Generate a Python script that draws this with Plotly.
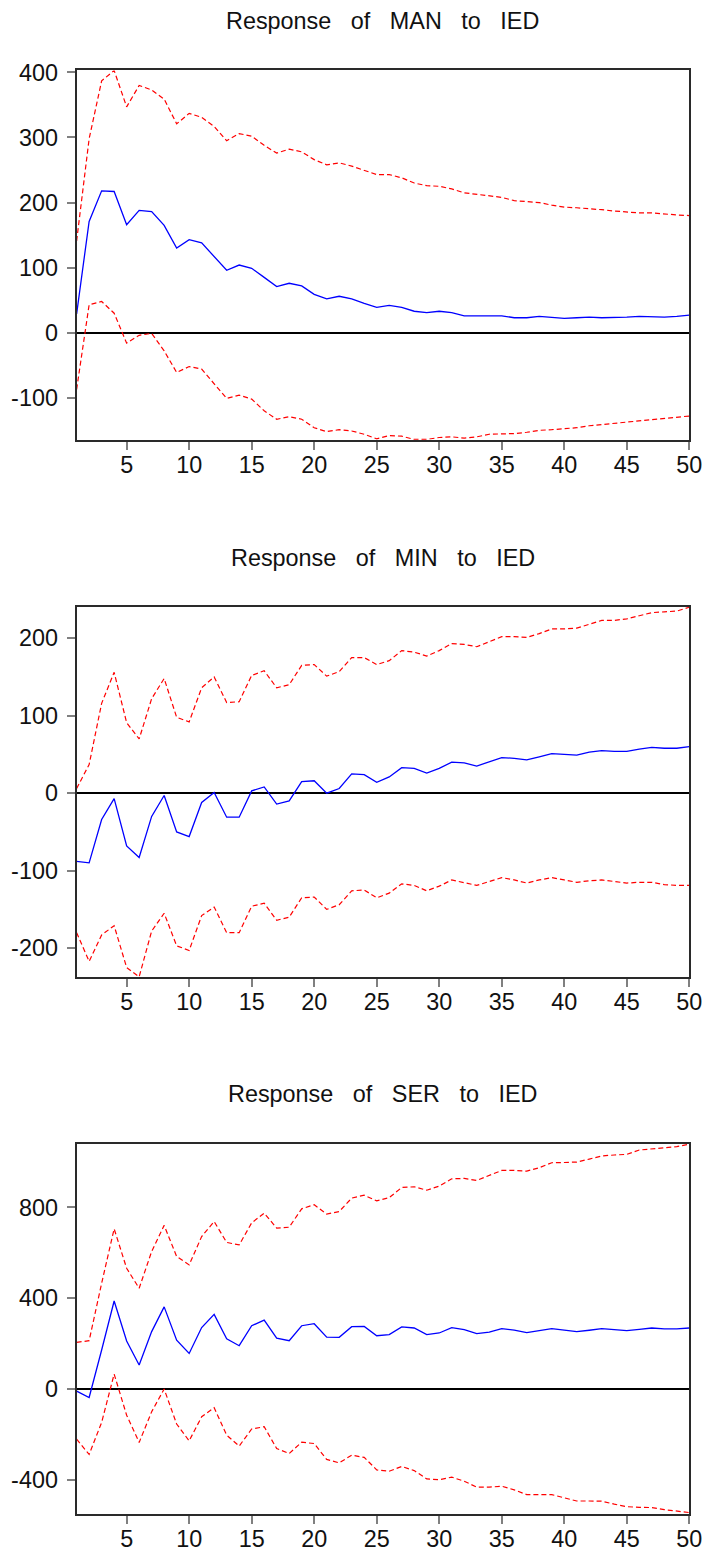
import plotly.graph_objects as go

periods = list(range(1, 51))

man_resp = [29, 171, 218, 217, 166, 188, 186, 165, 130, 143, 138, 117, 96, 104, 99, 85, 71, 76, 72, 59,
            52, 56, 52, 45, 39, 42, 39, 33, 31, 33, 31, 26, 26, 27, 26, 23, 23, 25, 23, 22,
            23, 24, 23, 23, 24, 25, 24, 24, 25, 27]
man_upper = [141, 298, 387, 403, 347, 380, 373, 359, 321, 337, 331, 317, 295, 306, 302, 288, 276, 282, 278, 266,
             258, 261, 256, 249, 243, 243, 238, 230, 226, 225, 221, 215, 213, 211, 208, 203, 201, 200, 196, 193,
             192, 191, 189, 187, 185, 184, 184, 182, 181, 180]
man_lower = [-87, 43, 48, 30, -16, -4, -1, -28, -61, -52, -56, -78, -101, -96, -102, -120, -133, -129, -133, -146,
             -152, -149, -151, -156, -163, -158, -159, -164, -164, -161, -160, -162, -160, -156, -156, -155, -153, -150, -149, -148,
             -146, -143, -141, -140, -137, -135, -133, -132, -130, -128]

min_resp = [-88, -90, -34, -7, -68, -83, -30, -3, -50, -56, -12, 1, -31, -31, 3, 8, -14, -10, 15, 16,
            0, 6, 25, 24, 14, 21, 33, 32, 26, 32, 40, 39, 35, 41, 46, 45, 43, 47, 51, 50,
            49, 53, 55, 54, 54, 57, 59, 58, 58, 60]
min_upper = [6, 37, 116, 156, 91, 70, 122, 148, 98, 92, 136, 150, 117, 118, 152, 158, 136, 140, 165, 166,
             151, 157, 175, 175, 166, 171, 184, 182, 177, 184, 193, 192, 189, 195, 202, 202, 201, 206, 212, 212,
             213, 218, 223, 223, 225, 229, 233, 234, 235, 240]
min_lower = [-180, -217, -183, -171, -225, -237, -178, -155, -197, -203, -158, -147, -180, -180, -146, -142, -164, -160, -135, -134,
             -150, -144, -126, -125, -135, -129, -117, -119, -126, -120, -112, -115, -119, -114, -109, -112, -116, -112, -109, -112,
             -115, -113, -112, -114, -116, -115, -115, -118, -119, -119]

ser_resp = [-9, -37, 172, 388, 212, 106, 253, 362, 215, 157, 271, 329, 221, 191, 279, 304, 224, 213, 279, 288,
            229, 228, 275, 276, 235, 240, 274, 269, 240, 247, 271, 262, 244, 251, 266, 260, 249, 256, 266, 260,
            253, 259, 266, 262, 257, 263, 269, 265, 265, 269]
ser_upper = [206, 213, 466, 706, 532, 444, 606, 721, 584, 547, 672, 738, 646, 635, 732, 775, 709, 713, 794, 812,
             771, 782, 841, 854, 829, 843, 888, 891, 876, 894, 926, 928, 919, 940, 963, 963, 960, 975, 997, 998,
             1000, 1013, 1027, 1031, 1034, 1053, 1059, 1063, 1068, 1079]
ser_lower = [-221, -288, -147, 66, -115, -235, -100, 0, -154, -228, -122, -82, -203, -251, -176, -166, -262, -284, -234, -240,
             -310, -325, -291, -301, -356, -362, -341, -359, -396, -399, -388, -406, -432, -432, -428, -444, -465, -466, -465, -479,
             -493, -493, -494, -507, -518, -521, -522, -531, -538, -544]

titles = ["Response of MAN to IED", "Response of MIN to IED", "Response of SER to IED"]
x_ticks = [5, 10, 15, 20, 25, 30, 35, 40, 45, 50]
y_ticks = [[-100, 0, 100, 200, 300, 400], [-200, -100, 0, 100, 200], [-400, 0, 400, 800]]
y_ranges = [[-164.6, 403], [-237.7, 240.3], [-549.8, 1081.6]]

panels = [(man_resp, man_upper, man_lower), (min_resp, min_upper, min_lower), (ser_resp, ser_upper, ser_lower)]

# target pixel positions (in the 704x1548 picture) mapped to figure pixels,
# compensating the capture offset/scale observed for this page
SX, OX = 0.984, -0.8
SY, OY = 0.990, 10.6
def fx(px):
    return (px - OX) / SX
def fy(py):
    return (py - OY) / SY

W, H = 716, 1552
FONT = "Liberation Sans, Arial, sans-serif"
FS = 23.4
x_left, x_right = fx(76), fx(690)
tops = [fy(70), fy(606), fy(1142)]
bottoms = [fy(439), fy(976), fy(1512)]
title_y = [fy(21), fy(557), fy(1093)]

fig = go.Figure()
layout = dict(
    width=W, height=H, margin=dict(l=0, r=0, t=0, b=0),
    paper_bgcolor="white", plot_bgcolor="white", showlegend=False,
    font=dict(family=FONT, size=FS, color="#111"),
)
annotations = []
for i, ((resp, up, lo), title) in enumerate(zip(panels, titles)):
    n = "" if i == 0 else str(i + 1)
    xa, ya = "x" + n, "y" + n
    for vals, color, dash, w in [(up, "#FF0000", "5px,3px", 1.2), (lo, "#FF0000", "5px,3px", 1.2), (resp, "#0000FF", "solid", 1.3)]:
        fig.add_trace(go.Scatter(x=periods, y=vals, mode="lines", xaxis=xa, yaxis=ya,
                                 line=dict(color=color, width=w, dash=dash), hoverinfo="skip"))
    axis_common = dict(showline=True, mirror=True, linecolor="#2a2a2a", linewidth=2,
                       showgrid=False, ticks="outside", ticklen=8, tickwidth=1.5, tickcolor="#808080",
                       ticklabeloverflow="allow",
                       tickfont=dict(family=FONT, size=FS, color="#111"))
    layout["xaxis" + n] = dict(domain=[x_left / W, x_right / W], range=[1, 50], tickvals=x_ticks,
                               ticktext=[str(v) for v in x_ticks], ticklabelstandoff=-5,
                               zeroline=False, anchor=ya, **axis_common)
    layout["yaxis" + n] = dict(domain=[1 - bottoms[i] / H, 1 - tops[i] / H], range=y_ranges[i],
                               tickvals=y_ticks[i], ticktext=[str(v) for v in y_ticks[i]], ticklabelstandoff=4,
                               zeroline=True, zerolinecolor="#000000", zerolinewidth=1.5,
                               anchor=xa, **axis_common)
    annotations.append(dict(text=title.replace(" ", " \u00a0\u00a0"), x=(x_left + x_right) / 2 / W, xref="paper",
                            y=1 - title_y[i] / H, yref="paper", xanchor="center", yanchor="middle",
                            showarrow=False, font=dict(family=FONT, size=FS, color="#111")))
layout["annotations"] = annotations
fig.update_layout(**layout)
fig.write_html("out.html", config={"displayModeBar": False},
               post_script="document.body.style.margin='0';document.body.style.overflow='hidden';")
